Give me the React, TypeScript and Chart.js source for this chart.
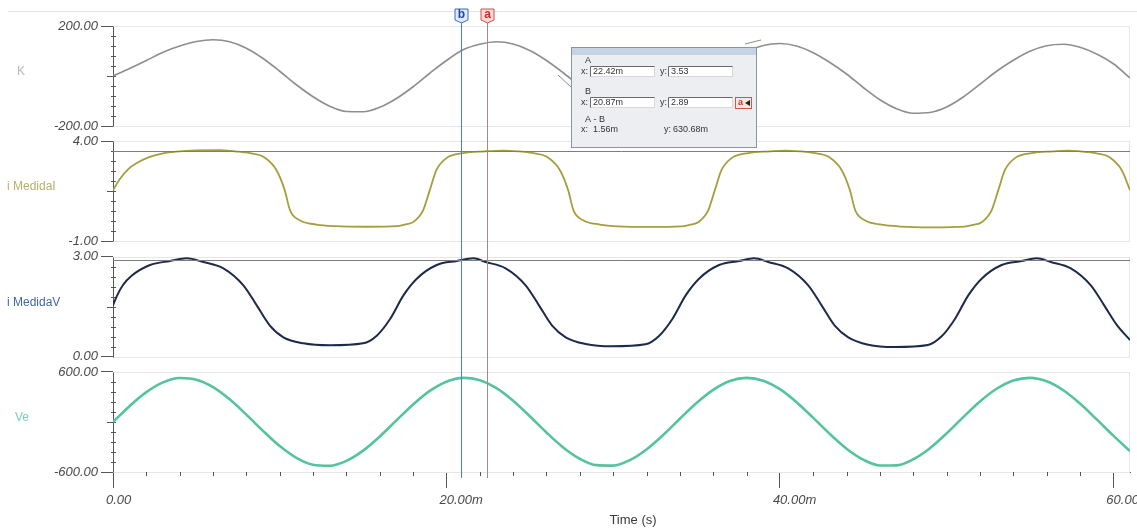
import React, { useEffect, useRef } from "react";
import { Chart, registerables } from "chart.js";

Chart.register(...registerables);

// ---------------- data ----------------
// time axis in milliseconds
const timeMs = [
  0, 1, 2, 3, 4, 5, 6, 7, 8, 9, 10, 11, 12, 13, 14, 15, 16, 17, 18, 19, 20,
  21, 22, 23, 24, 25, 26, 27, 28, 29, 30, 31, 32, 33, 34, 35, 36, 37, 38, 39,
  40, 41, 42, 43, 44, 45, 46, 47, 48, 49, 50, 51, 52, 53, 54, 55, 56, 57, 58,
  59, 60, 61,
];

const kValues = [
  0, 30, 62, 95, 120, 138, 145, 137, 111, 70, 19, -35, -83, -121, -142, -143,
  -125, -90, -43, 11, 62, 105, 127, 137, 128, 102, 62, 13, -40, -89, -125,
  -145, -144, -124, -87, -38, 14, 60, 98, 122, 130, 120, 93, 54, 8, -46, -95,
  -131, -149, -146, -124, -84, -33, 19, 63, 99, 121, 127, 115, 88, 49, -8,
];

const veValues = [
  0, 193, 359, 476, 528, 508, 419, 272, 88, -107, -289, -430, -513, -526,
  -467, -344, -174, 19, 210, 373, 484, 529, 502, 406, 255, 69, -126, -305,
  -441, -518, -523, -457, -329, -156, 39, 228, 386, 492, 530, 496, 394, 238,
  50, -145, -320, -452, -522, -520, -447, -314, -137, 58, 246, 399, 499, 530,
  489, 381, 221, 31, -164, -350,
];

const iTimes = [
  0, 0.4, 0.9, 1.4, 2.2, 3.0, 3.8, 5.0, 6.4, 7.3, 8.3, 9.0, 9.8, 10.3, 10.62,
  11.2, 12.2, 13.3, 15.3, 17.0, 17.5, 18.0, 18.6, 19.0, 19.4, 20.0, 21.0, 22.3,
  23.4, 24.3, 25.3, 26.0, 26.8, 27.3, 27.62, 28.2, 29.2, 30.3, 32.2, 34.1,
  34.6, 35.1, 35.7, 36.1, 36.5, 37.1, 38.1, 39.4, 40.3, 41.2, 42.2, 42.9, 43.7,
  44.2, 44.52, 45.1, 46.1, 47.2, 49.1, 51.1, 51.6, 52.1, 52.7, 53.1, 53.5,
  54.1, 55.1, 56.4, 57.3, 58.0, 59.0, 59.7, 60.5, 61.0,
];
const iValues = [
  1.56, 2.1, 2.6, 2.9, 3.22, 3.4, 3.49, 3.55, 3.56, 3.5, 3.4, 3.24, 2.57, 1.56,
  0.55, 0.05, -0.16, -0.24, -0.27, -0.24, -0.16, -0.04, 0.55, 1.56, 2.57, 3.16,
  3.41, 3.5, 3.54, 3.5, 3.4, 3.24, 2.57, 1.56, 0.55, 0.05, -0.16, -0.25, -0.28,
  -0.25, -0.17, -0.05, 0.55, 1.56, 2.57, 3.16, 3.41, 3.5, 3.54, 3.5, 3.4, 3.24,
  2.57, 1.56, 0.55, 0.05, -0.17, -0.26, -0.3, -0.26, -0.18, -0.05, 0.55, 1.56,
  2.57, 3.16, 3.41, 3.5, 3.54, 3.5, 3.4, 3.24, 2.57, 1.56,
];

const vTimes = [
  0, 0.25, 0.6, 1.1, 2.22, 3.42, 4.42, 5.42, 6.62, 7.82, 8.62, 9.41, 10.22,
  11.42, 13.0, 15.0, 15.82, 16.62, 17.42, 18.22, 19.42, 20.62, 21.62, 22.35,
  23.55, 24.75, 25.55, 26.34, 27.15, 28.35, 29.93, 31.93, 32.75, 33.55, 34.35,
  35.15, 36.35, 37.55, 38.45, 39.3, 40.5, 41.7, 42.5, 43.29, 44.1, 45.3, 46.88,
  48.88, 49.7, 50.5, 51.3, 52.1, 53.3, 54.5, 55.4, 56.25, 57.45, 58.65, 59.45,
  60.24, 61.0,
];
const vValues = [
  1.54, 1.84, 2.15, 2.42, 2.75, 2.87, 2.95, 2.84, 2.65, 2.14, 1.54, 0.93, 0.58,
  0.4, 0.34, 0.4, 0.63, 1.13, 1.84, 2.34, 2.75, 2.87, 2.95, 2.84, 2.65, 2.14,
  1.54, 0.93, 0.58, 0.38, 0.31, 0.37, 0.62, 1.13, 1.84, 2.34, 2.75, 2.87, 2.95,
  2.84, 2.65, 2.14, 1.54, 0.93, 0.58, 0.36, 0.29, 0.35, 0.61, 1.13, 1.84, 2.34,
  2.75, 2.87, 2.95, 2.84, 2.65, 2.14, 1.54, 0.93, 0.5,
];

// panels (top to bottom)
const panelIds = ["yK", "yI", "yV", "yVe"];
const panelNames = ["K", "i MedidaI", "i MedidaV", "Ve"];
const panelMax = [200, 4, 3, 600];
const panelMin = [-200, -1, 0, -600];

// x axis ticks
const xTickValues = [0, 20, 40, 60];
const xTickLabels = ["0.00", "20.00m", "40.00m", "60.00m"];
const xMax = 61;

// cursors
const cursorA = 22.42;
const cursorB = 20.87;
const cursorLevelI = 3.53;
const cursorLevelV = 2.89;
const readA = ["22.42m", "3.53"];
const readB = ["20.87m", "2.89"];
const readDelta = ["1.56m", "630.68m"];

// ---------------- styles ----------------
const FONT = '"Liberation Sans", Arial, sans-serif';
const curveColors = ["#8e8e8e", "#a49e3e", "#1d2a4c", "#55c39e"];
const curveWidths = [1.6, 1.8, 2, 2.6];
const nameColors = ["#b9b9b9", "#b8b068", "#4067a8", "#78cfb6"];
const nameX = [17, 7, 7, 15];
const AXIS = "#555555";
const GAP = 15.333;
const PANEL_PX = 100;

function line(ctx: CanvasRenderingContext2D, x1: number, y1: number, x2: number, y2: number) {
  ctx.beginPath();
  ctx.moveTo(x1, y1);
  ctx.lineTo(x2, y2);
  ctx.stroke();
}

const scopePlugin = {
  id: "scopeDecor",
  beforeDatasetsDraw(chart: any) {
    const ctx: CanvasRenderingContext2D = chart.ctx;
    const area = chart.chartArea;
    ctx.save();
    ctx.lineWidth = 1;
    // faint top strip line
    ctx.strokeStyle = "#e2e2e2";
    line(ctx, 8, 11.5, chart.width, 11.5);

    panelIds.forEach((id, k) => {
      const s = chart.scales[id];
      const yTop = Math.round(s.getPixelForValue(panelMax[k])) + 0.5;
      const yBot = Math.round(s.getPixelForValue(panelMin[k])) + 0.5;
      // panel frame
      ctx.strokeStyle = "#e6e6e6";
      ctx.strokeRect(area.left + 0.5, yTop, area.right - area.left - 1, yBot - yTop);
      // axis line
      ctx.strokeStyle = AXIS;
      line(ctx, area.left + 0.5, yTop, area.left + 0.5, yBot);
      // minor ticks
      for (let i = 1; i < 10; i++) {
        const v = panelMin[k] + ((panelMax[k] - panelMin[k]) * i) / 10;
        const y = Math.round(s.getPixelForValue(v)) + 0.5;
        line(ctx, area.left - (i === 5 ? 6 : 2), y, area.left + 3, y);
      }
      // panel name
      ctx.fillStyle = nameColors[k];
      ctx.font = `12px ${FONT}`;
      ctx.textAlign = "left";
      ctx.textBaseline = "middle";
      ctx.fillText(panelNames[k], nameX[k], (yTop + yBot) / 2 - 5);
    });

    // x minor ticks
    const xs = chart.scales.x;
    ctx.strokeStyle = AXIS;
    for (let t = 2; t <= 60; t += 2) {
      if (t % 20 === 0) continue;
      const x = Math.round(xs.getPixelForValue(t)) + 0.5;
      line(ctx, x, area.bottom, x, area.bottom + 4);
    }

    // axis title
    ctx.fillStyle = "#3a3a3a";
    ctx.font = `13px ${FONT}`;
    ctx.textAlign = "center";
    ctx.textBaseline = "middle";
    ctx.fillText("Time (s)", 633, 520);
    ctx.restore();
  },
  afterDatasetsDraw(chart: any) {
    const ctx: CanvasRenderingContext2D = chart.ctx;
    const area = chart.chartArea;
    const xs = chart.scales.x;
    ctx.save();
    ctx.lineWidth = 1;
    // horizontal cursor levels
    ctx.strokeStyle = "#7d7d7d";
    const yI = Math.round(chart.scales.yI.getPixelForValue(cursorLevelI)) + 0.5;
    line(ctx, area.left, yI, area.right, yI);
    const yV = Math.round(chart.scales.yV.getPixelForValue(cursorLevelV)) + 0.5;
    line(ctx, area.left, yV, area.right, yV);

    // vertical cursors
    const xb = Math.round(xs.getPixelForValue(cursorB)) + 0.5;
    const xa = Math.round(xs.getPixelForValue(cursorA)) + 0.5;
    ctx.strokeStyle = "#4a80d4";
    line(ctx, xb, 22, xb, area.bottom + 6);
    ctx.strokeStyle = "#a08c8c";
    line(ctx, xa, 22, xa, area.bottom + 6);

    // cursor markers
    const marker = (x: number, letter: string, fill: string, stroke: string, txt: string) => {
      const w = 13, top = 9, h = 14;
      ctx.beginPath();
      ctx.moveTo(x - w / 2, top);
      ctx.lineTo(x + w / 2, top);
      ctx.lineTo(x + w / 2, top + h - 3);
      ctx.lineTo(x, top + h);
      ctx.lineTo(x - w / 2, top + h - 3);
      ctx.closePath();
      ctx.fillStyle = fill;
      ctx.fill();
      ctx.strokeStyle = stroke;
      ctx.stroke();
      ctx.fillStyle = txt;
      ctx.font = `bold 12px ${FONT}`;
      ctx.textAlign = "center";
      ctx.textBaseline = "middle";
      ctx.fillText(letter, x, top + 6);
    };
    marker(xb, "b", "#dfe9f8", "#3e6db6", "#1c4a9c");
    marker(xa, "a", "#f5d9d3", "#d05050", "#cc2a2a");
    ctx.restore();
  },
  afterDraw(chart: any) {
    const ctx: CanvasRenderingContext2D = chart.ctx;
    ctx.save();
    const bx = 571, by = 47, bw = 186, bh = 101;
    // leader lines
    ctx.strokeStyle = "#8a8a8a";
    ctx.lineWidth = 1;
    line(ctx, 558, 75, bx, 87);
    line(ctx, bx + bw - 12, by - 3, bx + bw + 4, by - 7);
    // box
    ctx.fillStyle = "#eceef1";
    ctx.fillRect(bx, by, bw, bh);
    ctx.fillStyle = "#c6d3e4";
    ctx.fillRect(bx, by, bw, 8);
    ctx.strokeStyle = "#8995a6";
    ctx.strokeRect(bx + 0.5, by + 0.5, bw - 1, bh - 1);

    ctx.font = `9px ${FONT}`;
    ctx.textAlign = "left";
    ctx.textBaseline = "middle";
    const text = (s: string, x: number, y: number, color = "#333") => {
      ctx.fillStyle = color;
      ctx.fillText(s, x, y);
    };
    const field = (x: number, y: number, w: number, h: number, s: string) => {
      ctx.fillStyle = "#ffffff";
      ctx.fillRect(x, y, w, h);
      ctx.strokeStyle = "#6a6a6a";
      line(ctx, x + 0.5, y + h, x + 0.5, y + 0.5);
      line(ctx, x + 0.5, y + 0.5, x + w, y + 0.5);
      ctx.strokeStyle = "#d8d8d8";
      line(ctx, x + w - 0.5, y + 0.5, x + w - 0.5, y + h - 0.5);
      line(ctx, x + 0.5, y + h - 0.5, x + w, y + h - 0.5);
      text(s, x + 3, y + h / 2 + 0.5);
    };
    text("A", 585, 61);
    text("x:", 581, 72);
    field(590, 66, 65, 11, readA[0]);
    text("y:", 660, 72);
    field(668, 66, 65, 11, readA[1]);
    text("B", 585, 92);
    text("x:", 581, 103);
    field(590, 97, 65, 11, readB[0]);
    text("y:", 660, 103);
    field(668, 97, 65, 11, readB[1]);
    // cursor select button
    ctx.fillStyle = "#f3e6e6";
    ctx.fillRect(735, 97, 17, 12);
    ctx.strokeStyle = "#c25a5a";
    ctx.strokeRect(735.5, 97.5, 16, 11);
    ctx.font = `bold 9px ${FONT}`;
    text("a", 738, 103, "#cc3333");
    ctx.fillStyle = "#222";
    ctx.beginPath();
    ctx.moveTo(745, 103);
    ctx.lineTo(750, 100);
    ctx.lineTo(750, 106);
    ctx.closePath();
    ctx.fill();
    ctx.font = `9px ${FONT}`;
    text("A - B", 585, 120);
    text("x:", 581, 130);
    text(readDelta[0], 593, 130);
    text("y:", 664, 130);
    text(readDelta[1], 673, 130);
    ctx.restore();
  },
};

export default function App() {
  const canvasRef = useRef<HTMLCanvasElement | null>(null);

  useEffect(() => {
    if (!canvasRef.current) return;
    const seriesX = [timeMs, iTimes, vTimes, timeMs];
    const seriesY = [kValues, iValues, vValues, veValues];

    const datasets = panelIds.map((id, k) => ({
      label: panelNames[k],
      data: seriesX[k].map((t, i) => ({ x: t, y: seriesY[k][i] })),
      yAxisID: id,
      borderColor: curveColors[k],
      borderWidth: curveWidths[k],
      pointRadius: 0,
      fill: false,
      cubicInterpolationMode: "monotone" as const,
    }));

    const scales: any = {
      x: {
        type: "linear",
        position: "bottom",
        min: 0,
        max: xMax,
        afterBuildTicks: (s: any) => {
          s.ticks = xTickValues.map((v) => ({ value: v }));
        },
        afterFit: (s: any) => {
          s.height = 56;
          s.paddingLeft = 0;
          s.paddingRight = 0;
        },
        ticks: {
          callback: (_v: any, i: number) => xTickLabels[i],
          align: "start",
          labelOffset: -7,
          padding: 5,
          maxRotation: 0,
          minRotation: 0,
          autoSkip: false,
          color: "#4a4a4a",
          font: { family: FONT, size: 13, style: "italic" },
        },
        grid: { drawOnChartArea: false, drawTicks: true, tickLength: 16, color: AXIS },
        border: { display: true, color: AXIS },
      },
    };

    panelIds.forEach((id, k) => {
      const upp = (panelMax[k] - panelMin[k]) / PANEL_PX;
      const extTop = k === 0 ? 0 : (GAP / 2) * upp;
      const extBot = k === panelIds.length - 1 ? 0 : (GAP / 2) * upp;
      const edge = k === 0 || k === panelIds.length - 1;
      scales[id] = {
        type: "linear",
        position: "left",
        stack: "scope",
        stackWeight: PANEL_PX + (edge ? GAP / 2 : GAP),
        weight: panelIds.length - k,
        min: panelMin[k] - extBot,
        max: panelMax[k] + extTop,
        afterBuildTicks: (s: any) => {
          s.ticks = [{ value: panelMax[k] }, { value: panelMin[k] }];
        },
        afterFit: (s: any) => {
          s.width = 113;
          s.paddingTop = 0;
          s.paddingBottom = 0;
        },
        ticks: {
          callback: (v: any) => Number(v).toFixed(2),
          autoSkip: false,
          padding: 3,
          color: "#4a4a4a",
          font: { family: FONT, size: 13, style: "italic" },
        },
        grid: { drawOnChartArea: false, drawTicks: true, tickLength: 12, color: AXIS },
        border: { display: false },
      };
    });

    const chart = new Chart(canvasRef.current, {
      type: "line",
      data: { datasets },
      options: {
        animation: false,
        responsive: false,
        maintainAspectRatio: false,
        devicePixelRatio: 1,
        parsing: true,
        layout: { padding: { top: 26, right: 7, bottom: 0, left: 0 } },
        plugins: { legend: { display: false }, tooltip: { enabled: false } },
        scales,
      },
      plugins: [scopePlugin],
    } as any);

    return () => chart.destroy();
  }, []);

  return (
    <div
      style={{
        position: "fixed",
        left: 0,
        top: 0,
        width: 1137,
        height: 528,
        background: "#ffffff",
        overflow: "hidden",
      }}
    >
      <canvas ref={canvasRef} width={1137} height={528} style={{ display: "block" }} />
    </div>
  );
}
